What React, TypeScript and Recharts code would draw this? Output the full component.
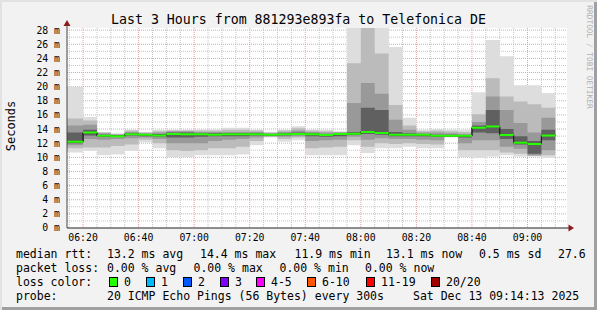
import { Area, CartesianGrid, ComposedChart, XAxis, YAxis } from 'recharts'

const MONO = '"DejaVu Sans Mono", "Liberation Mono", monospace'

const START = '06:14:13'
const END = '09:14:13'

// rrd step end times, 5 minute steps
const times = [
  '06:20', '06:25', '06:30', '06:35', '06:40', '06:45', '06:50', '06:55', '07:00', '07:05',
  '07:10', '07:15', '07:20', '07:25', '07:30', '07:35', '07:40', '07:45', '07:50', '07:55',
  '08:00', '08:05', '08:10', '08:15', '08:20', '08:25', '08:30', '08:35', '08:40', '08:45',
  '08:50', '08:55', '09:00', '09:05', '09:10',
]

// ms, sorted ping distribution per step (smoke)
const pMin = [
  10.7, 10.9, 10.3, 10.4, 10.9, 12.1, 11.3, 10.0, 10.0, 10.3,
  10.3, 10.3, 10.4, 11.7, 12.8, 12.2, 12.4, 10.3, 10.3, 10.3,
  11.7, 10.6, 11.3, 11.3, 11.5, 11.3, 11.3, 12.8, 10.0, 9.9,
  10.1, 10.3, 10.1, 10.1, 9.9,
]
const p10 = [
  11.3, 11.4, 11.4, 11.6, 11.8, 12.5, 12.0, 11.0, 10.9, 11.0,
  11.3, 11.3, 11.5, 12.3, 12.9, 12.6, 12.8, 11.3, 11.4, 11.5,
  12.4, 11.5, 12.0, 11.9, 12.0, 11.9, 11.8, 12.9, 11.0, 11.0,
  11.0, 10.7, 10.5, 10.2, 10.3,
]
const p25 = [
  11.7, 12.6, 12.5, 12.6, 12.7, 12.8, 12.6, 12.0, 12.0, 12.0,
  12.3, 12.5, 12.6, 12.8, 13.0, 12.9, 13.0, 12.3, 12.4, 12.5,
  12.9, 12.5, 12.7, 12.6, 12.6, 12.5, 12.4, 12.95, 12.0, 12.4,
  12.4, 11.5, 11.2, 10.3, 11.0,
]
const p40 = [
  12.0, 13.1, 12.9, 12.9, 13.1, 13.0, 12.9, 12.8, 12.8, 12.9,
  13.0, 13.0, 13.0, 13.1, 13.1, 13.1, 13.2, 13.0, 12.9, 13.0,
  13.2, 13.3, 13.2, 13.0, 13.0, 13.0, 12.9, 13.0, 12.8, 13.5,
  13.4, 12.6, 11.8, 10.5, 12.4,
]
const median = [
  12.2, 13.5, 13.05, 13.0, 13.25, 13.2, 13.1, 13.3, 13.25, 13.25,
  13.2, 13.25, 13.25, 13.25, 13.2, 13.25, 13.3, 13.25, 13.15, 13.3,
  13.35, 13.6, 13.45, 13.2, 13.2, 13.2, 13.05, 13.05, 13.05, 14.2,
  14.35, 13.15, 12.05, 11.9, 13.1,
]
const p60 = [
  13.5, 13.9, 13.2, 13.1, 13.4, 13.3, 13.3, 13.5, 13.5, 13.4,
  13.4, 13.4, 13.4, 13.4, 13.3, 13.4, 13.5, 13.4, 13.3, 13.4,
  13.6, 17.0, 16.7, 13.6, 13.4, 13.3, 13.2, 13.2, 13.15, 14.5,
  16.7, 14.0, 13.0, 12.3, 13.9,
]
const p75 = [
  14.5, 14.6, 13.4, 13.2, 13.6, 13.4, 13.5, 13.7, 13.7, 13.6,
  13.6, 13.6, 13.6, 13.6, 13.4, 13.6, 13.8, 13.6, 13.5, 13.5,
  17.7, 20.5, 19.0, 15.3, 13.9, 13.5, 13.5, 13.4, 13.3, 15.0,
  18.6, 16.7, 14.85, 13.5, 15.6,
]
const p90 = [
  15.5, 15.2, 13.5, 13.3, 13.8, 13.5, 13.7, 13.8, 13.8, 13.8,
  13.8, 13.9, 13.9, 13.8, 13.5, 13.8, 14.1, 13.8, 13.7, 13.6,
  23.3, 29.0, 24.7, 17.4, 14.5, 13.7, 13.8, 13.7, 13.6, 16.1,
  21.2, 18.6, 17.9, 17.5, 17.0,
]
const pMax = [
  20.0, 15.7, 13.6, 13.4, 13.9, 13.6, 13.9, 13.9, 13.9, 13.95,
  13.95, 14.2, 14.2, 13.9, 13.6, 13.9, 14.4, 13.9, 13.9, 13.7,
  30.0, 30.0, 30.0, 25.6, 15.6, 13.9, 14.0, 13.95, 13.9, 19.2,
  26.6, 24.3, 20.2, 20.2, 19.05,
]

const xTickLabels = ['06:20', '06:40', '07:00', '07:20', '07:40', '08:00', '08:20', '08:40', '09:00']
const yTicks = [0, 2, 4, 6, 8, 10, 12, 14, 16, 18, 20, 22, 24, 26, 28]

const lossLabels = ['0', '1', '2', '3', '4-5', '6-10', '11-19', '20/20']
const lossColors = ['#26ff00', '#00b8ff', '#0059ff', '#7e00ff', '#ff00ff', '#ff5500', '#ff0000', '#a00000']

const toMin = (s: string) => {
  const [h, m, sec = 0] = s.split(':').map(Number)
  return h * 60 + m + sec / 60
}
const pad = (n: number) => String(n).padStart(2, '0')
const fmt = (v: number) => `${pad(Math.floor(v / 60))}:${pad(Math.round(v % 60))}`

const x0 = toMin(START)
const x1 = toMin(END)
const majorX = xTickLabels.map(toMin)

// first row repeats step 0 at the graph start (stepBefore)
const rows = [{ x: x0, i: 0 }, ...times.map((t, i) => ({ x: toMin(t), i }))].map(({ x, i }) => ({
  x,
  min: pMin[i],
  p10: p10[i],
  p25: p25[i],
  p40: p40[i],
  med: median[i],
  p60: p60[i],
  p75: p75[i],
  p90: p90[i],
  max: pMax[i],
}))
type Row = (typeof rows)[number]

const bands: { lo: keyof Row; hi: keyof Row; fill: string }[] = [
  { lo: 'min', hi: 'max', fill: '#dddddd' },
  { lo: 'p10', hi: 'p90', fill: '#bbbbbb' },
  { lo: 'p25', hi: 'p75', fill: '#999999' },
  { lo: 'p40', hi: 'p60', fill: '#606060' },
]

const W = 597
const H = 310
const MARGIN = { top: 28, right: 30, bottom: 62, left: 7 }
const Y_AXIS_W = 60
const X_AXIS_H = 20
const Y_MAX = 28.3
const PLOT_L = MARGIN.left + Y_AXIS_W
const PLOT_W = W - PLOT_L - MARGIN.right
const PLOT_H = H - MARGIN.top - MARGIN.bottom - X_AXIS_H
const PX_PER_MS = PLOT_H / Y_MAX
const GREEN_HALF = 1 / PX_PER_MS

// grid line pixel positions (rrdtool style: grey every 5 min / 1 ms, red at labels)
const gx = (v: number) => PLOT_L + ((v - x0) / (x1 - x0)) * PLOT_W
const gy = (v: number) => MARGIN.top + ((Y_MAX - v) / Y_MAX) * PLOT_H
const minorXPts: number[] = []
for (let t = Math.ceil(x0 / 5) * 5; t < x1; t += 5) if (t % 20 !== 0) minorXPts.push(gx(t))
const minorYPts: number[] = []
for (let v = 1; v < 28; v += 2) minorYPts.push(gy(v))
const majorXPts = majorX.map(gx)
const majorYPts = yTicks.filter((v) => v > 0).map(gy)

const legendRows: { top: number; items: [number, string][] }[] = [
  {
    top: 248,
    items: [
      [16, 'median rtt:'],
      [107, '13.2 ms avg'],
      [200, '14.4 ms max'],
      [294.5, '11.9 ms min'],
      [386, '13.1 ms now'],
      [479, '0.5 ms sd'],
      [558, '27.6'],
    ],
  },
  {
    top: 262,
    items: [
      [16, 'packet loss:'],
      [107, '0.00 % avg'],
      [193.5, '0.00 % max'],
      [279.5, '0.00 % min'],
      [365, '0.00 % now'],
    ],
  },
  { top: 275.5, items: [[16, 'loss color:']] },
  {
    top: 289.5,
    items: [
      [16, 'probe:'],
      [107, '20 ICMP Echo Pings (56 Bytes) every 300s'],
      [413, 'Sat Dec 13 09:14:13 2025'],
    ],
  },
]
const squareX = [109, 146, 183, 220, 256, 307, 366, 431]

const txt: React.CSSProperties = {
  position: 'absolute',
  fontFamily: MONO,
  fontSize: 11.5,
  lineHeight: '12px',
  whiteSpace: 'pre',
  color: '#000',
}

export default function App() {
  return (
    <div
      style={{
        position: 'relative',
        width: W,
        height: H,
        background: '#f2f2f2',
        boxShadow: 'inset 2px 2px 0 #e2e2e2, inset -3px -3px 0 #a0a0a0',
        overflow: 'hidden',
      }}
    >
      <style>{'body{margin:0}'}</style>
      <div
        style={{
          position: 'absolute',
          left: 0,
          top: 11.5,
          width: W,
          textAlign: 'center',
          fontFamily: MONO,
          fontSize: 13.25,
          lineHeight: '16px',
          whiteSpace: 'pre',
        }}
      >
        Last 3 Hours from 881293e893fa to Telefonica DE
      </div>
      <div
        style={{
          position: 'absolute',
          left: 11,
          top: 126,
          transform: 'translate(-50%, -50%) rotate(-90deg)',
          fontFamily: MONO,
          fontSize: 12,
          whiteSpace: 'pre',
        }}
      >
        Seconds
      </div>
      <div
        style={{
          position: 'absolute',
          left: 589,
          top: 57,
          transform: 'translate(-50%, -50%) rotate(90deg)',
          fontFamily: MONO,
          fontSize: 7.8,
          color: '#b0b0b0',
          whiteSpace: 'pre',
        }}
      >
        RRDTOOL / TOBI OETIKER
      </div>

      <div style={{ position: 'absolute', left: 0, top: 0 }}>
        <ComposedChart width={W} height={H} data={rows} margin={MARGIN}>
          <CartesianGrid
            fill="#ffffff"
            stroke="#c4c4c4"
            strokeDasharray="1 1"
            horizontalPoints={minorYPts}
            verticalPoints={minorXPts}
          />
          <CartesianGrid
            stroke="#e8a0a0"
            strokeDasharray="1 1"
            horizontalPoints={majorYPts}
            verticalPoints={majorXPts}
          />
          <XAxis
            type="number"
            dataKey="x"
            domain={[x0, x1]}
            ticks={majorX}
            interval={0}
            tickFormatter={fmt}
            height={X_AXIS_H}
            tickLine={false}
            tickSize={0}
            tickMargin={6}
            axisLine={{ stroke: '#222' }}
            tick={{ fill: '#000', fontSize: 9.8, fontFamily: MONO }}
          />
          <YAxis
            type="number"
            domain={[0, Y_MAX]}
            allowDataOverflow
            ticks={yTicks}
            interval={0}
            tickFormatter={(v: number) => `${v} m`}
            width={Y_AXIS_W}
            tickLine={false}
            tickSize={0}
            tickMargin={7}
            axisLine={{ stroke: '#444' }}
            tick={{ fill: '#000', fontSize: 9.8, fontFamily: MONO }}
          />
          {bands.map((b) => (
            <Area
              key={b.lo}
              type="stepBefore"
              dataKey={(d: Row) => [d[b.lo], d[b.hi]]}
              fill={b.fill}
              fillOpacity={1}
              stroke="none"
              dot={false}
              activeDot={false}
              isAnimationActive={false}
            />
          ))}
          <Area
            type="stepBefore"
            dataKey={(d: Row) => [d.med, d.med]}
            fill="none"
            stroke="#202020"
            strokeWidth={1}
            dot={false}
            activeDot={false}
            isAnimationActive={false}
          />
          <Area
            type="stepBefore"
            dataKey={(d: Row) => [d.med - GREEN_HALF, d.med + GREEN_HALF]}
            fill={lossColors[0]}
            fillOpacity={1}
            stroke="none"
            dot={false}
            activeDot={false}
            isAnimationActive={false}
          />
        </ComposedChart>
      </div>

      <svg width={W} height={H} style={{ position: 'absolute', left: 0, top: 0, pointerEvents: 'none' }}>
        <line x1={67} y1={28} x2={67} y2={23} stroke="#444" />
        <polygon points="67,20 63.5,26 70.5,26" fill="#8b1c1c" />
        <line x1={567} y1={228} x2={570} y2={228} stroke="#222" />
        <polygon points="574,228 568.5,224.5 568.5,231.5" fill="#8b1c1c" />
      </svg>

      {legendRows.map((r) =>
        r.items.map(([x, s]) => (
          <div key={`${r.top}-${x}`} style={{ ...txt, left: x, top: r.top }}>
            {s}
          </div>
        )),
      )}
      {lossLabels.map((l, i) => (
        <div key={l}>
          <div
            style={{
              position: 'absolute',
              left: squareX[i],
              top: 277,
              width: 9,
              height: 10,
              boxSizing: 'border-box',
              border: '1px solid #000',
              background: lossColors[i],
            }}
          />
          <div style={{ ...txt, left: squareX[i] + 15, top: 275.5 }}>{l}</div>
        </div>
      ))}
    </div>
  )
}
